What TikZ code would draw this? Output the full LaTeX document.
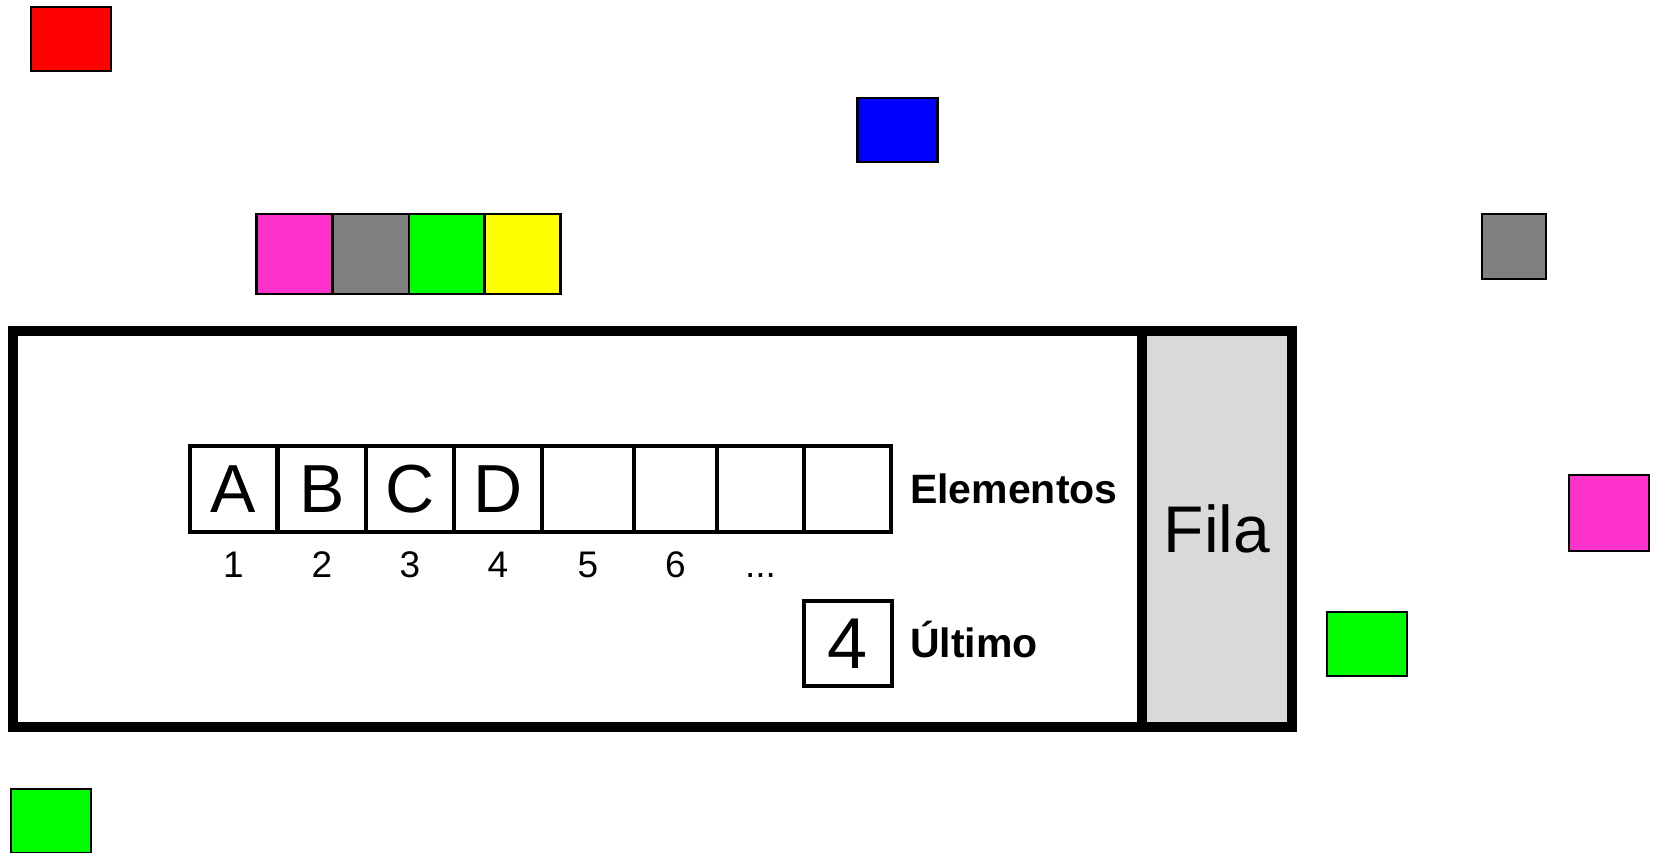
\documentclass[tikz,border=0pt]{standalone}
\usepackage{fontspec}
\setmainfont{Liberation Sans}
\definecolor{cred}{HTML}{FF0000}
\definecolor{cblue}{HTML}{0000FF}
\definecolor{cpink}{HTML}{FF33CC}
\definecolor{cgray}{HTML}{808080}
\definecolor{cgreen}{HTML}{00FF00}
\definecolor{cyellow}{HTML}{FFFF00}
\definecolor{cfila}{HTML}{D9D9D9}
\begin{document}
\begin{tikzpicture}[x=1pt,y=-1pt,
  sq/.style={draw=black, line width=2.5pt, inner sep=0pt, minimum width=80pt, minimum height=64pt},
  cell/.style={draw=black, line width=4pt, inner sep=0pt, minimum height=86pt, font=\fontsize{68}{70}\selectfont},
  idx/.style={anchor=base, inner sep=0pt, font=\fontsize{37}{40}\selectfont},
  lbl/.style={anchor=base west, inner sep=0pt, font=\fontsize{41}{45}\selectfont\bfseries}]
\useasboundingbox (0,0) rectangle (1655,852);
\clip (0,0) rectangle (1655,852);

% free coloured squares
\node[sq, fill=cred] (red) at (71,39) {};
\node[sq, fill=cblue] (blue) at (897.5,130) {};
\node[sq, fill=cgray, minimum width=64pt, minimum height=65pt] (grayR) at (1514,246.5) {};
\node[sq, fill=cpink, minimum height=76pt] (pinkR) at (1609,513) {};
\node[sq, fill=cgreen] (greenR) at (1367,644) {};
\node[sq, fill=cgreen] (greenB) at (51,821) {};

% row of four
\node[sq, fill=cpink, minimum width=76pt, minimum height=80pt] (q1) at (294.5,254) {};
\node[sq, fill=cgray, minimum width=76pt, minimum height=80pt] (q2) at (371,254) {};
\node[sq, fill=cgreen, minimum width=75pt, minimum height=80pt] (q3) at (446.5,254) {};
\node[sq, fill=cyellow, minimum width=76pt, minimum height=80pt] (q4) at (522.5,254) {};

% queue structure
\node[draw=black, line width=10pt, minimum width=1279pt, minimum height=396pt, inner sep=0pt] (queue) at (652.5,529) {};
\node[draw=black, fill=cfila, line width=10pt, minimum width=150pt, minimum height=396pt, inner sep=0pt,
      font=\fontsize{66}{70}\selectfont] (fila) at (1217,529) {Fila};

% array cells
\node[cell, minimum width=87pt] (c1) at (233.5,489) {A};
\node[cell, minimum width=88pt] (c2) at (322,489) {B};
\node[cell, minimum width=88pt] (c3) at (410,489) {C};
\node[cell, minimum width=88pt] (c4) at (498,489) {D};
\node[cell, minimum width=92pt] (c5) at (588,489) {};
\node[cell, minimum width=83pt] (c6) at (675.5,489) {};
\node[cell, minimum width=87pt] (c7) at (760.5,489) {};
\node[cell, minimum width=87pt] (c8) at (847.5,489) {};

% indices
\node[idx] (n1) at (233.5,577) {1};
\node[idx] (n2) at (322,577) {2};
\node[idx] (n3) at (410,577) {3};
\node[idx] (n4) at (498,577) {4};
\node[idx] (n5) at (588,577) {5};
\node[idx] (n6) at (675.5,577) {6};
\node[idx] (n7) at (760.5,577) {...};

% last index box
\node[draw=black, line width=4pt, inner sep=0pt, minimum width=88pt, minimum height=85pt,
      font=\fontsize{72}{74}\selectfont] (ult) at (848,643.5) {4};

% labels
\node[lbl] (elem) at (910,503) {Elementos};
\node[lbl] (ultl) at (910,657) {Último};
\end{tikzpicture}
\end{document}
